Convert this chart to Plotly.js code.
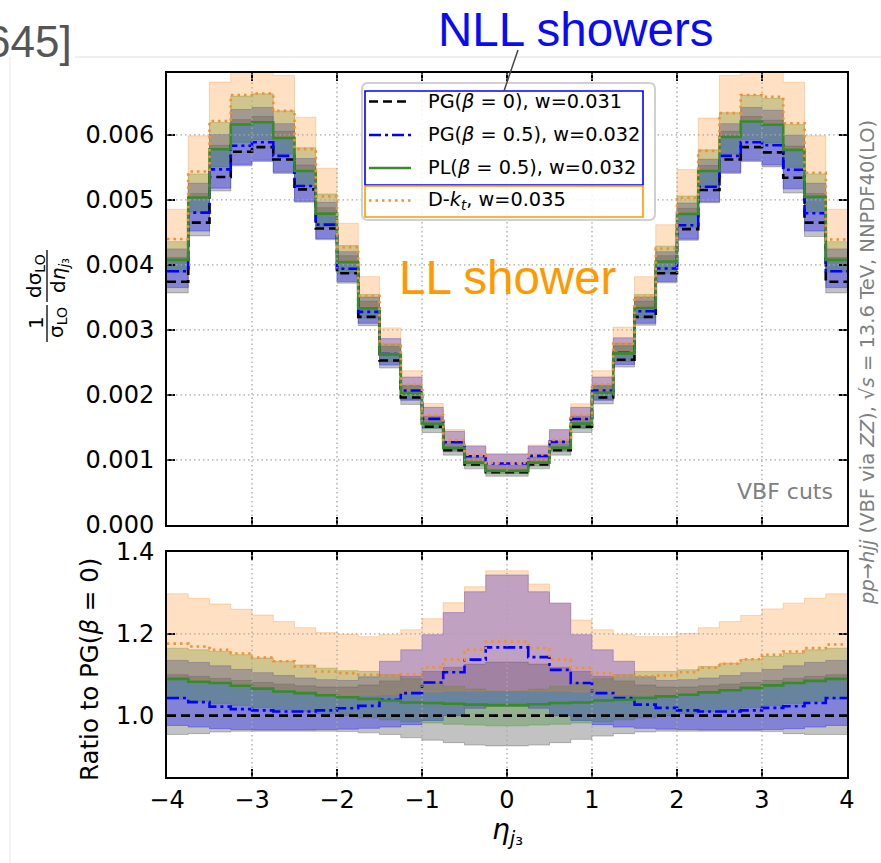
<!DOCTYPE html>
<html>
<head>
<meta charset="utf-8">
<script src="https://cdn.plot.ly/plotly-3.0.1.min.js"></script>
<style>
  html, body { margin: 0; padding: 0; background: #ffffff; }
  #chart { width: 881px; height: 863px; }
</style>
</head>
<body>
<div id="chart"></div>
<script>
// ---- binning and ticks ----
const binEdges = [-4, -3.75, -3.5, -3.25, -3, -2.75, -2.5, -2.25, -2, -1.75, -1.5, -1.25, -1, -0.75, -0.5, -0.25,
                  0, 0.25, 0.5, 0.75, 1, 1.25, 1.5, 1.75, 2, 2.25, 2.5, 2.75, 3, 3.25, 3.5, 3.75, 4];
const xTicks = [-4, -3, -2, -1, 0, 1, 2, 3, 4];
const yTicksTop = [0, 0.001, 0.002, 0.003, 0.004, 0.005, 0.006];
const yTicksRatio = [1.0, 1.2, 1.4];

// ---- PG(beta=0) reference distribution, 1/sigma dsigma/deta ----
const pg0Central = [0.00374, 0.00465, 0.00535, 0.00574, 0.00581, 0.00562, 0.00516, 0.00456,
                    0.00387, 0.00320, 0.00253, 0.00196, 0.00151, 0.00115, 0.00093, 0.00081,
                    0.00081, 0.00093, 0.00115, 0.00151, 0.00196, 0.00254, 0.00320, 0.00387,
                    0.00455, 0.00515, 0.00562, 0.00581, 0.00573, 0.00534, 0.00465, 0.00374];

// ---- central values, as ratio to PG(beta=0) ----
const pg05Ratio = [1.043, 1.033, 1.022, 1.016, 1.013, 1.010, 1.010, 1.013,
                   1.018, 1.024, 1.039, 1.055, 1.081, 1.106, 1.137, 1.167,
                   1.167, 1.143, 1.112, 1.080, 1.055, 1.043, 1.027, 1.019,
                   1.013, 1.010, 1.010, 1.013, 1.019, 1.023, 1.031, 1.043];
const plRatio = [1.090, 1.083, 1.080, 1.073, 1.066, 1.059, 1.055, 1.050,
                 1.045, 1.041, 1.037, 1.032, 1.031, 1.029, 1.027, 1.025,
                 1.025, 1.028, 1.031, 1.032, 1.037, 1.039, 1.043, 1.047,
                 1.051, 1.057, 1.062, 1.068, 1.074, 1.080, 1.085, 1.090];
const dktRatio = [1.176, 1.169, 1.161, 1.152, 1.142, 1.133, 1.120, 1.108,
                  1.104, 1.100, 1.098, 1.102, 1.118, 1.137, 1.161, 1.181,
                  1.181, 1.165, 1.137, 1.117, 1.104, 1.098, 1.096, 1.098,
                  1.106, 1.117, 1.127, 1.138, 1.149, 1.157, 1.165, 1.174];

// ---- uncertainty bands, as ratio to PG(beta=0) ----
const pg0BandLo = [0.954, 0.956, 0.960, 0.962, 0.962, 0.962, 0.962, 0.962,
                   0.961, 0.958, 0.954, 0.946, 0.940, 0.934, 0.928, 0.926,
                   0.926, 0.928, 0.934, 0.942, 0.950, 0.956, 0.960, 0.962,
                   0.962, 0.962, 0.962, 0.962, 0.961, 0.956, 0.954, 0.954];
const pg0BandHi = [1.100, 1.096, 1.091, 1.086, 1.081, 1.077, 1.073, 1.070,
                   1.070, 1.075, 1.085, 1.096, 1.108, 1.118, 1.126, 1.131,
                   1.131, 1.126, 1.118, 1.108, 1.096, 1.085, 1.075, 1.070,
                   1.070, 1.073, 1.077, 1.081, 1.086, 1.091, 1.096, 1.100];
const pg05BandLo = [0.976, 0.972, 0.968, 0.966, 0.965, 0.965, 0.965, 0.966,
                    0.967, 0.969, 0.972, 0.978, 0.988, 1.000, 1.018, 1.030,
                    1.030, 1.018, 1.000, 0.988, 0.978, 0.972, 0.969, 0.967,
                    0.966, 0.965, 0.965, 0.965, 0.966, 0.968, 0.972, 0.976];
const pg05BandHi = [1.135, 1.130, 1.122, 1.113, 1.105, 1.098, 1.092, 1.088,
                    1.086, 1.095, 1.133, 1.161, 1.198, 1.252, 1.303, 1.344,
                    1.344, 1.303, 1.275, 1.198, 1.161, 1.133, 1.095, 1.086,
                    1.088, 1.092, 1.098, 1.105, 1.113, 1.122, 1.130, 1.135];
const plBandLo = [1.040, 1.035, 1.030, 1.025, 1.020, 1.015, 1.010, 1.005,
                  1.000, 0.995, 0.990, 0.985, 0.982, 0.979, 0.977, 0.975,
                  0.975, 0.977, 0.979, 0.982, 0.985, 0.990, 0.995, 1.000,
                  1.005, 1.010, 1.015, 1.020, 1.025, 1.030, 1.035, 1.040];
const plBandHi = [1.165, 1.161, 1.157, 1.149, 1.141, 1.133, 1.124, 1.116,
                  1.110, 1.108, 1.100, 1.090, 1.080, 1.072, 1.065, 1.060,
                  1.060, 1.065, 1.072, 1.080, 1.090, 1.100, 1.108, 1.108,
                  1.112, 1.120, 1.128, 1.137, 1.145, 1.153, 1.161, 1.165];
const dktBandLo = [1.090, 1.085, 1.080, 1.074, 1.068, 1.062, 1.056, 1.052,
                   1.050, 1.050, 1.052, 1.055, 1.058, 1.060, 1.060, 1.060,
                   1.060, 1.060, 1.060, 1.058, 1.055, 1.052, 1.050, 1.050,
                   1.052, 1.056, 1.062, 1.068, 1.074, 1.080, 1.085, 1.090];
const dktBandHi = [1.298, 1.287, 1.273, 1.260, 1.246, 1.230, 1.215, 1.203,
                   1.199, 1.193, 1.198, 1.210, 1.237, 1.276, 1.315, 1.354,
                   1.354, 1.322, 1.275, 1.234, 1.210, 1.198, 1.193, 1.193,
                   1.201, 1.215, 1.230, 1.245, 1.261, 1.275, 1.287, 1.298];

// ---- styles ----
const showers = [
  { name: 'PG0',  ratio: pg0Central.map(() => 1), lo: pg0BandLo,  hi: pg0BandHi,
    fill: 'rgba(0,0,0,0.24)',       edge: 'rgba(0,0,0,0.22)',
    color: '#000000', dash: '9px,5px' },
  { name: 'PG05', ratio: pg05Ratio, lo: pg05BandLo, hi: pg05BandHi,
    fill: 'rgba(0,0,255,0.33)',     edge: 'rgba(0,0,255,0.3)',
    color: '#0000ff', dash: '12px,4px,3px,4px' },
  { name: 'PL05', ratio: plRatio,   lo: plBandLo,   hi: plBandHi,
    fill: 'rgba(45,135,30,0.30)',   edge: 'rgba(45,135,30,0.3)',
    color: '#3a8a2a', dash: 'solid' },
  { name: 'Dkt',  ratio: dktRatio,  lo: dktBandLo,  hi: dktBandHi,
    fill: 'rgba(255,130,10,0.25)',  edge: 'rgba(255,130,10,0.28)',
    color: '#f3902f', dash: '2.5px,4px' }
];

const step = a => a.concat([a[a.length - 1]]);
const absolute = r => pg0Central.map((v, i) => v * r[i]);

const traces = [];
function addBand(xa, ya, lo, hi, s) {
  traces.push({ x: binEdges, y: step(lo), xaxis: xa, yaxis: ya, mode: 'lines',
    line: { shape: 'hv', width: 1, color: s.edge }, hoverinfo: 'skip', showlegend: false });
  traces.push({ x: binEdges, y: step(hi), xaxis: xa, yaxis: ya, mode: 'lines',
    line: { shape: 'hv', width: 1, color: s.edge }, fill: 'tonexty', fillcolor: s.fill,
    hoverinfo: 'skip', showlegend: false });
}
function addLine(xa, ya, vals, s) {
  traces.push({ x: binEdges, y: step(vals), xaxis: xa, yaxis: ya, mode: 'lines',
    line: { shape: 'hv', width: 2.6, color: s.color, dash: s.dash },
    hoverinfo: 'skip', showlegend: false });
}

// upper panel: absolute distributions
showers.forEach(s => addBand('x', 'y', absolute(s.lo), absolute(s.hi), s));
showers.forEach(s => addLine('x', 'y', absolute(s.ratio), s));
// lower panel: ratio to PG(beta=0)
showers.forEach(s => addBand('x2', 'y2',
  absolute(s.lo).map((v, i) => v / pg0Central[i]),
  absolute(s.hi).map((v, i) => v / pg0Central[i]), s));
showers.forEach(s => addLine('x2', 'y2',
  absolute(s.ratio).map((v, i) => v / pg0Central[i]), s));

// ---- page geometry helpers (pixel -> paper) ----
const L = 167, R = 847, T = 73, B = 777;
const px = x => (x - L) / (R - L);
const py = y => (B - y) / (B - T);
const P = (x, y) => px(x).toFixed(5) + ',' + py(y).toFixed(5);

const tickFont = { family: 'DejaVu Sans', size: 24, color: '#000000' };
const axisCommon = {
  showline: true, linewidth: 2, linecolor: '#000000', mirror: 'ticks',
  ticks: 'inside', ticklen: 8, tickwidth: 2, tickcolor: '#000000',
  showgrid: false, zeroline: false, tickfont: tickFont
};

const shapes = [];
const gridLine = { color: '#a8a8a8', width: 1.3, dash: '1.5px,3px' };
// dotted grid drawn over the bands
['x', 'x2'].forEach((xa, k) => {
  const ya = k === 0 ? 'y' : 'y2';
  xTicks.slice(1, -1).forEach(t => shapes.push({ type: 'line', xref: xa, yref: ya + ' domain',
    x0: t, x1: t, y0: 0, y1: 1, line: gridLine, layer: 'above' }));
});
yTicksTop.slice(1).forEach(t => shapes.push({ type: 'line', xref: 'x domain', yref: 'y',
  x0: 0, x1: 1, y0: t, y1: t, line: gridLine, layer: 'above' }));
yTicksRatio.slice(1, -1).forEach(t => shapes.push({ type: 'line', xref: 'x2 domain', yref: 'y2',
  x0: 0, x1: 1, y0: t, y1: t, line: gridLine, layer: 'above' }));

// slide frame lines
shapes.push({ type: 'line', xref: 'paper', yref: 'paper', x0: px(75), x1: px(881), y0: py(57), y1: py(57),
  line: { color: '#ebebeb', width: 1.5 }, layer: 'below' });
shapes.push({ type: 'line', xref: 'paper', yref: 'paper', x0: px(10), x1: px(10), y0: py(57), y1: py(863),
  line: { color: '#efefef', width: 1.5 }, layer: 'below' });

// legend frame with rounded corners
const r = 6, lx0 = 362, lx1 = 655, ly0 = 83, ly1 = 220;
shapes.push({ type: 'path', xref: 'paper', yref: 'paper', layer: 'above',
  path: `M ${P(lx0 + r, ly0)} L ${P(lx1 - r, ly0)} Q ${P(lx1, ly0)} ${P(lx1, ly0 + r)} ` +
        `L ${P(lx1, ly1 - r)} Q ${P(lx1, ly1)} ${P(lx1 - r, ly1)} L ${P(lx0 + r, ly1)} ` +
        `Q ${P(lx0, ly1)} ${P(lx0, ly1 - r)} L ${P(lx0, ly0 + r)} Q ${P(lx0, ly0)} ${P(lx0 + r, ly0)} Z`,
  fillcolor: 'rgba(255,255,255,0.88)', line: { color: '#d0d0d0', width: 2 } });
// NLL / LL grouping boxes
shapes.push({ type: 'rect', xref: 'paper', yref: 'paper', layer: 'above',
  x0: px(365), x1: px(643), y0: py(91), y1: py(185), line: { color: '#0000ff', width: 1.6 } });
shapes.push({ type: 'rect', xref: 'paper', yref: 'paper', layer: 'above',
  x0: px(365), x1: px(643), y0: py(186), y1: py(217), line: { color: '#ff9900', width: 1.6 } });
// pointer from the NLL label to its box
shapes.push({ type: 'line', xref: 'paper', yref: 'paper', layer: 'above',
  x0: px(518), y0: py(50), x1: px(504), y1: py(91), line: { color: '#444444', width: 1.5 } });

// legend samples and labels
const legendRows = [101.5, 135, 168, 200.5];
const legendLabels = [
  'PG(<i>β</i> = 0), w=0.031',
  'PG(<i>β</i> = 0.5), w=0.032',
  'PL(<i>β</i> = 0.5), w=0.032',
  'D-<i>k</i><sub><i>t</i></sub>, w=0.035'
];
const annotations = [];
function note(x, y, text, font, extra) {
  annotations.push(Object.assign({ xref: 'paper', yref: 'paper', x: px(x), y: py(y),
    xanchor: 'center', yanchor: 'middle', showarrow: false, text: text, font: font }, extra || {}));
}
showers.forEach((s, i) => {
  shapes.push({ type: 'line', xref: 'paper', yref: 'paper', layer: 'above',
    x0: px(369), x1: px(411), y0: py(legendRows[i]), y1: py(legendRows[i]),
    line: { color: s.color, width: 2.6, dash: s.dash } });
  note(426, legendRows[i], legendLabels[i],
    { family: 'DejaVu Sans', size: 19.3, color: '#000000' }, { xanchor: 'left' });
});

// y-axis label of the upper panel: 1/sigma_LO dsigma_LO/deta_j3
const fracFont = { family: 'DejaVu Sans', size: 20, color: '#000000' };
note(36, 323, '1', fracFont, { textangle: -90 });
note(57, 323, 'σ<sub>LO</sub>', fracFont, { textangle: -90 });
note(35, 276, 'dσ<sub>LO</sub>', fracFont, { textangle: -90 });
note(59, 276, 'd<i>η</i><sub><i>j</i>₃</sub>', fracFont, { textangle: -90 });
shapes.push({ type: 'line', xref: 'paper', yref: 'paper', x0: px(47), x1: px(47), y0: py(305), y1: py(342),
  line: { color: '#000000', width: 1.3 } });
shapes.push({ type: 'line', xref: 'paper', yref: 'paper', x0: px(47), x1: px(47), y0: py(250), y1: py(302),
  line: { color: '#000000', width: 1.3 } });

note(89, 670, 'Ratio to PG(<i>β</i> = 0)',
  { family: 'DejaVu Sans', size: 24.5, color: '#000000' }, { textangle: -90 });
note(507, 831, '<i>η</i><sub><i>j</i>₃</sub>', { family: 'DejaVu Sans', size: 28, color: '#000000' });
note(867, 362, '<i>pp</i>→<i>hjj</i> (VBF via <i>ZZ</i>), √<i>s</i> = 13.6 TeV, NNPDF40(LO)',
  { family: 'DejaVu Sans', size: 19.5, color: '#808080' }, { textangle: -90 });
note(785, 491, 'VBF cuts', { family: 'DejaVu Sans', size: 22, color: '#808080' });
note(508, 277, 'LL shower', { family: 'Liberation Sans', size: 47.5, color: '#ff9900' });
note(575, 29, 'NLL showers', { family: 'Liberation Sans', size: 47.5, color: '#0a0af5' });
note(74, 41, '645]', { family: 'Liberation Sans', size: 44, color: '#555555' }, { xanchor: 'right' });

const layout = {
  width: 881, height: 863,
  margin: { l: L, r: 881 - R, t: T, b: 863 - B, pad: 0 },
  paper_bgcolor: '#ffffff', plot_bgcolor: '#ffffff',
  showlegend: false,
  xaxis: Object.assign({}, axisCommon, { domain: [0, 1], range: [-4, 4], anchor: 'y',
    tickvals: xTicks, showticklabels: false }),
  yaxis: Object.assign({}, axisCommon, { domain: [(B - 525) / (B - T), 1], range: [0, 0.00695],
    anchor: 'x', tickvals: yTicksTop, tickformat: '.3f', ticklabelstandoff: 6 }),
  xaxis2: Object.assign({}, axisCommon, { domain: [0, 1], range: [-4, 4], anchor: 'y2',
    tickvals: xTicks, ticklabelstandoff: 0 }),
  yaxis2: Object.assign({}, axisCommon, { domain: [0, (B - 552) / (B - T)], range: [0.85, 1.4001],
    anchor: 'x2', tickvals: yTicksRatio, tickformat: '.1f', ticklabelstandoff: 6 }),
  shapes: shapes,
  annotations: annotations
};

Plotly.newPlot('chart', traces, layout, { displayModeBar: false, staticPlot: true });
</script>
</body>
</html>
